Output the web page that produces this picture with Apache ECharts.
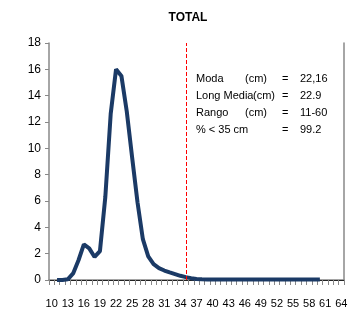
<!DOCTYPE html>
<html>
<head>
<meta charset="utf-8">
<script src="https://cdn.jsdelivr.net/npm/echarts@6/dist/echarts.min.js"></script>
<style>
  html, body { margin: 0; padding: 0; background: #fff; }
  #main { width: 356px; height: 313px; }
</style>
</head>
<body>
<div id="main"></div>
<script>
// tallas 10..64 cm
var tallas = []
for (var t = 10; t <= 64; t++) tallas.push(String(t))

// frecuencia (%) por talla
var frecuencia = [
  null, 0, 0, 0.05, 0.5, 1.5, 2.7, 2.4, 1.75, 2.2,
  6.3, 12.6, 16.0, 15.5, 12.8, 9.3, 5.9, 3.1, 1.8, 1.2,
  0.9, 0.72, 0.58, 0.45, 0.32, 0.22, 0.14, 0.08, 0.05, 0.04,
  0.03, 0.03, 0.03, 0.03, 0.03, 0.03, 0.03, 0.03, 0.03, 0.03,
  0.03, 0.03, 0.03, 0.03, 0.03, 0.03, 0.03, 0.03, 0.03, 0.03,
  0.03, null, null, null, null
]

var tallaCorte = '35'

var etiquetas = ['Moda', 'Long Media', 'Rango', '% < 35 cm']
var unidades = ['(cm)', '(cm)', '(cm)', '']
var valores = ['22,16', '22.9', '11-60', '99.2']

var myChart = echarts.init(document.getElementById('main'))

var textos = []
etiquetas.forEach(function(e, i) {
  var y = 73 + i * 17
  var st = { fontSize: 11, fontFamily: 'Liberation Sans, Arial', fill: '#000' }
  textos.push({ type: 'text', left: 196, top: y, style: Object.assign({ text: e }, st) })
  if (unidades[i]) {
    var ux = e === 'Long Media' ? 253 : 245
    textos.push({ type: 'text', left: ux, top: y, style: Object.assign({ text: unidades[i] }, st) })
  }
  textos.push({ type: 'text', left: 282, top: y, style: Object.assign({ text: '=' }, st) })
  textos.push({ type: 'text', left: 300, top: y, style: Object.assign({ text: valores[i] }, st) })
})

var option = {
  animation: false,
  title: {
    text: 'TOTAL',
    left: 183,
    textAlign: 'center',
    top: 7,
    textStyle: { fontSize: 12, fontWeight: 'bold', fontFamily: 'Liberation Sans, Arial', color: '#000' }
  },
  grid: { left: 49, right: 12, top: 43, bottom: 33 },
  graphic: textos,
  xAxis: [
    {
      type: 'category',
      data: tallas,
      boundaryGap: true,
      axisLine: { lineStyle: { color: '#888', width: 1.5 } },
      axisTick: { show: true, interval: 0, length: 5, inside: false, lineStyle: { color: '#888' } },
      axisLabel: {
        interval: 2,
        margin: 18,
        fontSize: 11,
        color: '#000',
        fontFamily: 'Liberation Sans Narrow, Liberation Sans, Arial'
      }
    },
    {
      type: 'category',
      data: tallas,
      position: 'top',
      axisLine: { lineStyle: { color: '#222', width: 1 } },
      axisTick: { show: false },
      axisLabel: { show: false }
    }
  ],
  yAxis: [
    {
      type: 'value',
      min: 0,
      max: 18,
      interval: 2,
      axisLine: { show: true, lineStyle: { color: '#888', width: 1.5 } },
      axisTick: { show: true, length: 4, lineStyle: { color: '#888' } },
      splitLine: { show: false },
      axisLabel: { fontSize: 12, color: '#000', margin: 8, fontFamily: 'Liberation Sans, Arial' }
    },
    {
      type: 'value',
      min: 0,
      max: 18,
      position: 'right',
      axisLine: { show: true, lineStyle: { color: '#888', width: 1.5 } },
      axisTick: { show: false },
      axisLabel: { show: false },
      splitLine: { show: false }
    }
  ],
  series: [
    {
      name: 'TOTAL',
      type: 'line',
      data: frecuencia,
      showSymbol: false,
      lineStyle: { color: '#1B3A66', width: 4 },
      markLine: {
        silent: true,
        symbol: 'none',
        label: { show: false },
        lineStyle: { color: '#ff0000', type: 'dashed', width: 1 },
        data: [{ xAxis: tallaCorte }]
      }
    }
  ]
}

myChart.setOption(option)
</script>
</body>
</html>
